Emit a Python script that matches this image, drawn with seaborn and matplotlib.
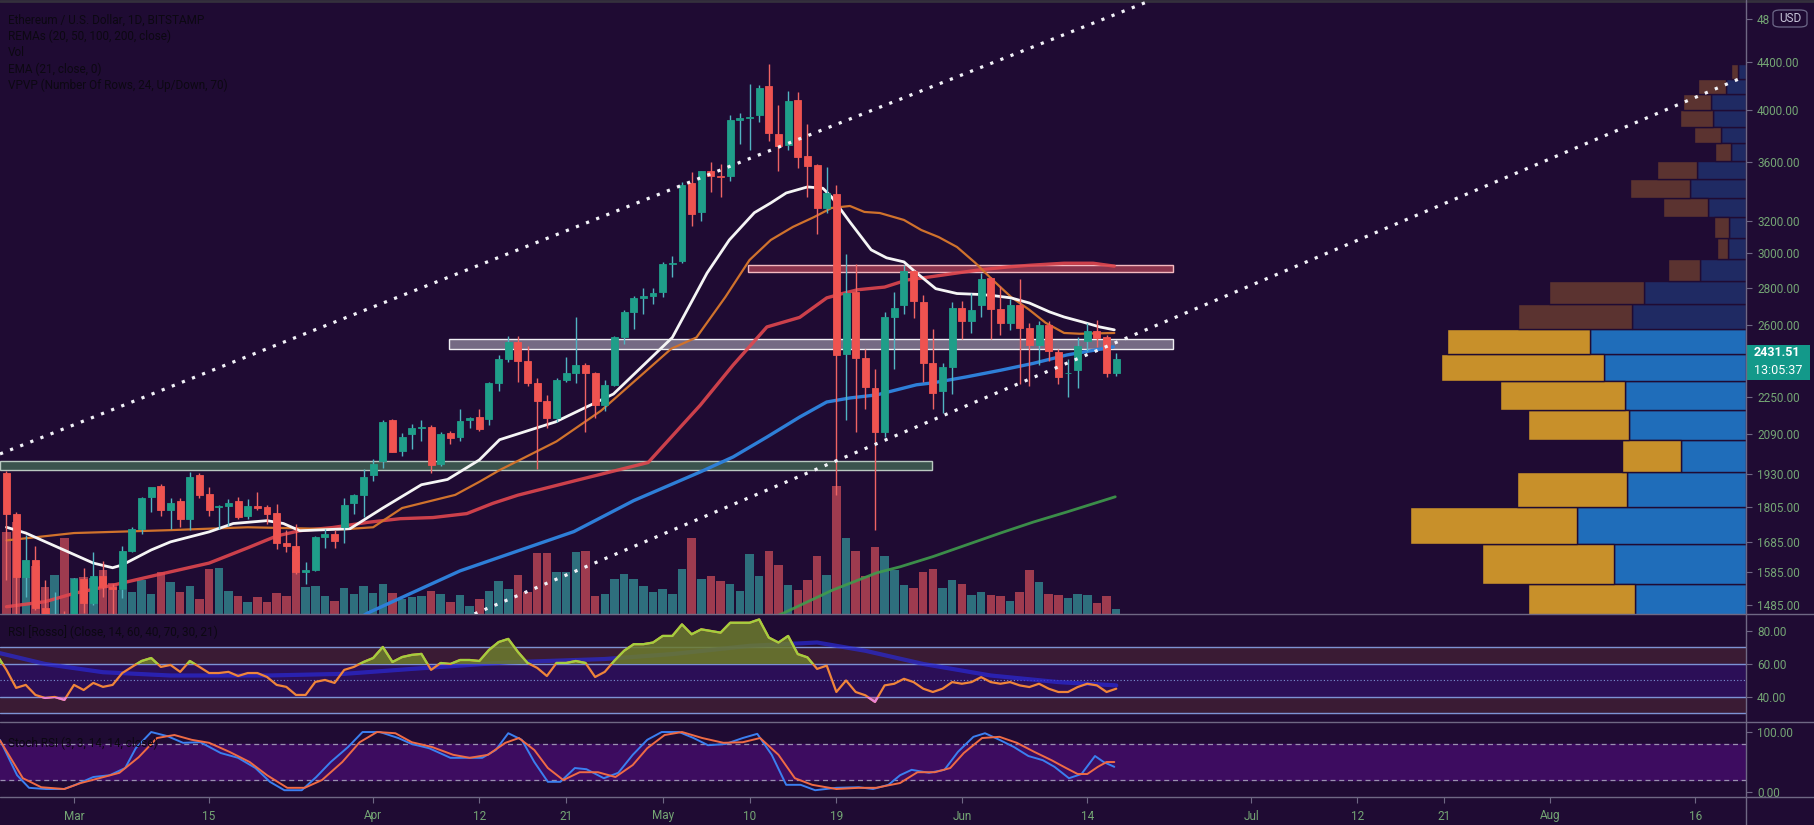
import numpy as np
import pandas as pd
import seaborn as sns
import matplotlib.pyplot as plt
import matplotlib.colors as mcolors
from matplotlib.patches import Rectangle, FancyBboxPatch
from matplotlib.lines import Line2D
from matplotlib.ticker import NullLocator

sns.set_theme(style="dark")
plt.rcParams['font.family'] = ['Roboto', 'DejaVu Sans']

# ---------------- data (day 0 = 1 Mar 2021, daily candles) ----------------
days = list(range(-7, 109))
opens = [1935, 1781, 1570, 1626, 1475, 1447, 1460,
         1417, 1565, 1490, 1575, 1540, 1532, 1655, 1730, 1845, 1885, 1795, 1830, 1765, 1925,
         1854, 1806, 1810, 1830, 1775, 1812, 1805, 1785, 1681, 1670, 1585, 1592, 1700, 1713,
         1735, 1820, 1850,
         1925, 1980, 2150, 2020, 2090, 2118, 2120, 1970, 2095, 2080, 2150, 2165, 2155, 2315,
         2430, 2515, 2420, 2315, 2235, 2160, 2330, 2360, 2400, 2360, 2215, 2305, 2538, 2669,
         2745, 2755,
         2775, 2940, 2955, 3455, 3260, 3540, 3505, 3505, 3915, 3935, 3960, 4190, 3810, 3730,
         4075, 3645, 3580, 3285, 3380, 2454, 2775, 2432, 2290, 2100, 2640, 2707, 2895, 2725,
         2408, 2280, 2390,
         2690, 2620, 2705, 2855, 2685, 2610, 2705, 2585, 2500, 2600, 2465, 2360, 2375, 2520,
         2570, 2540, 2360]
highs = [1940, 1790, 1710, 1671, 1560, 1525, 1468,
         1568, 1600, 1652, 1622, 1548, 1670, 1735, 1845, 1875, 1890, 1840, 1838, 1938, 1935,
         1880, 1815, 1835, 1845, 1835, 1860, 1815, 1818, 1725, 1745, 1620, 1705, 1730, 1725,
         1840, 1855, 1950,
         1990, 2150, 2155, 2095, 2135, 2150, 2130, 2100, 2105, 2200, 2165, 2200, 2320, 2450,
         2545, 2545, 2495, 2340, 2260, 2340, 2440, 2640, 2410, 2365, 2330, 2545, 2680, 2755,
         2800, 2800,
         2950, 2985, 3460, 3530, 3540, 3600, 3590, 3960, 3975, 4210, 4200, 4382, 4040, 4150,
         4140, 3890, 3590, 3570, 3440, 2996, 2935, 2480, 2380, 2670, 2780, 2930, 2900, 2760,
         2580, 2410, 2720,
         2730, 2770, 2885, 2860, 2810, 2740, 2850, 2610, 2620, 2620, 2480, 2430, 2540, 2610,
         2625, 2550, 2460]
lows = [1560, 1370, 1510, 1470, 1405, 1430, 1295,
        1410, 1462, 1485, 1510, 1442, 1505, 1650, 1712, 1790, 1775, 1730, 1735, 1725, 1840,
        1775, 1730, 1740, 1765, 1765, 1795, 1745, 1660, 1650, 1580, 1550, 1590, 1665, 1665,
        1680, 1780, 1770,
        1905, 1955, 2015, 2000, 2030, 2060, 1935, 1960, 2050, 2060, 2115, 2105, 2130, 2280,
        2415, 2320, 2300, 1950, 2115, 2140, 2320, 2315, 2100, 2160, 2190, 2300, 2505, 2580,
        2660, 2710,
        2750, 2860, 2945, 3170, 3200, 3390, 3360, 3470, 3735, 3690, 3900, 3760, 3540, 3690,
        3560, 3360, 3120, 3250, 1851, 2150, 2100, 2200, 1726, 2080, 2380, 2660, 2635, 2320,
        2200, 2180, 2265,
        2530, 2560, 2640, 2530, 2550, 2575, 2310, 2300, 2400, 2420, 2310, 2250, 2290, 2470,
        2490, 2345, 2350]
closes = [1781, 1570, 1626, 1475, 1447, 1460, 1417,
          1565, 1490, 1575, 1540, 1532, 1655, 1730, 1840, 1880, 1795, 1820, 1765, 1920, 1850,
          1795, 1810, 1820, 1770, 1810, 1803, 1780, 1681, 1670, 1585, 1592, 1700, 1713, 1688,
          1815, 1850, 1920,
          1970, 2140, 2015, 2080, 2115, 2120, 1965, 2090, 2075, 2145, 2160, 2110, 2315, 2430,
          2515, 2420, 2315, 2235, 2160, 2330, 2360, 2400, 2360, 2215, 2305, 2538, 2669, 2745,
          2755, 2770,
          2940, 2945, 3440, 3245, 3535, 3505, 3495, 3915, 3935, 3940, 4180, 3815, 3720, 4070,
          3640, 3575, 3285, 3385, 2450, 2772, 2436, 2296, 2100, 2640, 2690, 2895, 2730, 2408,
          2270, 2390, 2690,
          2620, 2680, 2850, 2685, 2610, 2705, 2585, 2500, 2600, 2470, 2345, 2362, 2495, 2570,
          2535, 2360, 2431.51]
# volume, relative units (read as bar height)
volume = [82, 92, 37, 48, 27, 39, 76,
          36, 37, 36, 44, 31, 24, 22, 34, 20, 42, 32, 22, 28, 15,
          45, 46, 23, 18, 12, 17, 12, 21, 18, 62, 27, 28, 18, 13,
          26, 20, 28,
          21, 30, 21, 15, 17, 18, 23, 20, 12, 19, 8, 15, 23, 33,
          25, 39, 22, 61, 61, 42, 42, 62, 63, 18, 20, 35, 40, 35,
          28, 22,
          25, 20, 45, 76, 35, 38, 33, 30, 23, 60, 38, 63, 49, 29,
          24, 34, 58, 39, 128, 76, 63, 38, 67, 58, 44, 29, 26, 42,
          45, 26, 34,
          30, 19, 22, 19, 18, 13, 22, 44, 32, 20, 19, 16, 20, 19,
          11, 18, 5]

# moving averages (vertices)
ema_white_d = [-7, -5, 2, 4, 5, 8, 10, 14, 16.5, 20, 21.7, 23.4, 28.6, 32, 36, 38.7, 42, 44.1,
               49.9, 55.9, 62, 65.6, 67.9, 70.5, 72.2, 73.8, 76, 77.6, 78.5, 80.4, 82.6, 84.2,
               86, 87, 89.3, 91.5, 93.8, 95.2, 97.1, 99, 101.1, 102.6, 104.5, 106.3, 107.8]
ema_white_p = [1735, 1715, 1615, 1600, 1609, 1658, 1685, 1719, 1748, 1758, 1748, 1723, 1730,
               1803, 1889, 1909, 1985, 2067, 2142, 2265, 2536, 2885, 3082, 3255, 3319, 3386,
               3427, 3418, 3359, 3195, 3022, 2974, 2950, 2900, 2796, 2769, 2764, 2758, 2745,
               2717, 2669, 2642, 2616, 2590, 2575]
ema_orange_d = [-7, 0, 10, 18, 25, 28, 31, 34, 39.5, 42, 44.1, 50, 54.6, 61.9, 64.5, 67.5,
                70, 72.2, 74.5, 76.7, 78.5, 80.4, 81.9, 83.5, 86, 87.8, 89.6, 91.5, 93.4, 95.2,
                97.1, 99, 100.7, 102.6, 104.2, 107.8]
ema_orange_p = [1690, 1715, 1725, 1735, 1730, 1728, 1735, 1803, 1851, 1900, 1945, 2060, 2190,
                2480, 2536, 2750, 2961, 3082, 3164, 3227, 3286, 3299, 3260, 3253, 3208, 3144,
                3100, 3039, 2944, 2845, 2750, 2680, 2611, 2559, 2555, 2559]
ema_red_d = [-7, -3, 0, 4, 9, 14, 18, 21, 23.4, 26.8, 30.4, 33.8, 37.2, 40.7, 43.4, 46, 52,
             59.5, 64.9, 68.3, 71.8, 75.2, 78, 79.7, 81.2, 84, 86.3, 88.6, 91.5, 93.8, 96.7,
             99, 102.6, 105.6, 107.8]
ema_red_p = [1480, 1495, 1520, 1545, 1580, 1615, 1665, 1705, 1723, 1734, 1752, 1765, 1769,
             1783, 1820, 1850, 1905, 1975, 2215, 2400, 2590, 2640, 2745, 2770, 2790, 2805,
             2845, 2862, 2885, 2903, 2920, 2930, 2942, 2942, 2925]
ema_blue_d = [28, 30.4, 40, 51.8, 58, 64.9, 68.3, 71.8, 75.2, 78, 80.4, 83.2, 87.3, 89,
              92.5, 96, 99.4, 102.9, 107.7]
ema_blue_p = [1420, 1461, 1590, 1720, 1830, 1938, 1997, 2078, 2163, 2229, 2247, 2261, 2307,
              2316, 2344, 2375, 2408, 2449, 2489]
ema_green_d = [71, 73.5, 78.6, 83.2, 85.6, 89, 92.5, 96, 99.4, 102.9, 107.9]
ema_green_p = [1430, 1461, 1530, 1584, 1603, 1636, 1675, 1715, 1753, 1789, 1844]

# trend lines (day, price) and zones (day from, day to, price lo, price hi)
upper_trend_d, upper_trend_p = [-7.67, 111.7], [2009, 4981]
lower_trend_d, lower_trend_p = [41.5, 173], [1459, 4270]
zone_red = (69.8, 113.9, 2891, 2932)
zone_white = (38.9, 113.9, 2477, 2527)
zone_green = (-7.67, 88.9, 1946, 1981)

# volume profile rows (price lo/hi, up volume, down volume, in value area)
vp_lo = [1422, 1550, 1679, 1808, 1937, 2065, 2194, 2323, 2452, 2580, 2709, 2838, 2966,
         3095, 3224, 3353, 3481, 3610, 3739, 3867, 3996, 4125, 4253]
vp_hi = [1550, 1679, 1808, 1937, 2065, 2194, 2323, 2452, 2580, 2709, 2838, 2966, 3095,
         3224, 3353, 3481, 3610, 3739, 3867, 3996, 4125, 4253, 4382]
vp_up = [111, 132, 169, 119, 65, 117, 121, 142, 156, 114, 102, 46, 18, 17, 38, 56, 49, 15,
         25, 33, 35, 20, 8]
vp_down = [107, 132, 167, 110, 59, 101, 125, 163, 143, 114, 95, 32, 11, 15, 45, 60, 40, 16,
           27, 33, 28, 28, 7]
vp_value_area = [1, 1, 1, 1, 1, 1, 1, 1, 1, 0, 0, 0, 0, 0, 0, 0, 0, 0, 0, 0, 0, 0, 0]

# RSI and its average
rsi_days = list(range(-8, 109))
rsi = [65.5, 56.4, 45.5, 47.3, 41.2, 39.4, 40.0, 38.2,
       47.3, 44.2, 48.5, 46.1, 47.3, 54.5, 58.2, 61.8, 63.6, 58.2, 59.4, 55.2, 61.8, 58.2,
       54.5, 54.5, 55.2, 52.7, 54.5, 54.5, 52.1, 47.3, 46.1, 41.2, 41.2, 49.1, 50.3, 48.5,
       56.4, 58.2, 61.2,
       63.6, 70.3, 61.2, 64.2, 65.5, 66.1, 56.4, 60.6, 60.0, 62.4, 62.4, 61.8, 68.5, 73.3,
       75.2, 67.3, 60.6, 57.6, 52.7, 60.6, 60.6, 61.8, 60.6, 52.1, 55.2, 62, 68, 72, 72, 73,
       77, 77, 84, 78, 81, 80, 79, 85, 85, 85, 87, 76, 73, 77, 66, 64, 57, 59, 43, 50, 43, 41,
       37, 47, 48, 51, 49, 45, 43, 45, 49,
       48, 49, 52, 49, 48, 49, 47, 46, 48, 45, 43, 43, 46, 48, 47, 43, 45]
rsi_ma_d = [-8, -3, 3, 10, 20, 28, 35, 45, 55, 62, 70, 77, 82, 88, 95, 102, 108]
rsi_ma = [67, 60, 55, 53, 53, 54, 57, 61, 63, 66, 71, 73, 68, 60, 53, 49, 47]

# Stoch RSI %K (blue) and %D (orange), vertices
stoch_k_d = [-7.67, -5.9, -4.66, -2.9, -1.04, 0.1, 2.0, 3.7, 5.3, 6.4, 8.0, 9.7, 11.3, 13.1,
             15.2, 17.0, 18.8, 20.3, 21.8, 23.6, 25.1, 26.6, 28.4, 29.9, 31.7, 33.6, 35.0,
             36.8, 39.0, 40.4, 42.3, 43.7, 45.0, 46.4, 47.7, 49.1, 50.4, 51.9, 53.1, 54.9,
             56.4, 57.9, 59.4, 60.9, 62.7, 64.2, 65.7, 67.5, 69.3, 70.8, 72.3, 73.8, 75.3,
             76.8, 79.0, 81.3, 82.8, 84.4, 85.6, 86.8, 88.6, 90.2, 91.6, 93.2, 94.4, 95.9,
             97.4, 98.9, 100.4, 101.6, 103.1, 104.4, 105.8, 106.7, 107.8]
stoch_k = [86.7, 28, 7, 5, 5, 11.7, 25, 28, 40, 73, 100, 93, 82, 83, 65, 57, 40, 17, 3, 3, 25,
           50, 75, 100, 100, 90, 80, 73, 57, 57, 57, 70, 98, 87, 50, 17, 17, 40, 38, 23, 32,
           62, 87, 100, 100, 90, 78, 80, 90, 97, 62, 12, 12, 3, 7, 8, 5, 12, 28, 37, 32, 37,
           67, 92, 98, 87, 75, 60, 53, 42, 23, 30, 60, 50, 42]
stoch_d_d = [-7.67, -5.3, -3.4, -1.0, 0.7, 2.6, 4.7, 6.7, 8.6, 10.4, 12.2, 14.0, 16.1, 18.2,
             20.0, 22.1, 23.9, 25.7, 27.8, 29.6, 31.4, 33.3, 35.0, 37.1, 39.3, 41.0, 42.9,
             44.7, 46.1, 47.7, 49.1, 50.7, 52.4, 54.3, 56.1, 57.9, 59.4, 61.2, 63.0, 65.1,
             67.3, 69.3, 71.1, 73.0, 74.7, 76.5, 79.0, 81.3, 83.1, 85.6, 87.4, 89.2, 90.8,
             92.2, 94.1, 95.9, 97.7, 99.5, 101.3, 102.8, 104.0, 105.0, 106.1, 107.0, 107.8]
stoch_d = [86, 23, 8, 5, 15, 23, 32, 58, 90, 95, 87, 82, 67, 50, 28, 7, 7, 20, 50, 83, 100,
           98, 83, 75, 62, 57, 62, 82, 90, 70, 40, 20, 33, 33, 25, 45, 73, 95, 100, 90, 82, 83,
           90, 62, 23, 12, 5, 7, 7, 15, 33, 33, 40, 65, 90, 92, 82, 67, 53, 40, 30, 30, 42, 50,
           50]

tick_days = [0, 14, 31, 42, 51, 61, 70, 79, 92, 105, 122, 133, 142, 153, 168]
tick_labels = ['Mar', '15', 'Apr', '12', '21', 'May', '10', '19', 'Jun', '14', 'Jul', '12',
               '21', 'Aug', '16']
price_ticks = [4800, 4400, 4000, 3600, 3200, 3000, 2800, 2600, 2250, 2090, 1930, 1805, 1685,
               1585, 1485]
# the 4800 label is mostly hidden under the USD badge; only "48" shows
price_labels = ['48', '4400.00', '4000.00', '3600.00', '3200.00', '3000.00', '2800.00',
                '2600.00', '2250.00', '2090.00', '1930.00', '1805.00', '1685.00', '1585.00',
                '1485.00']
last_price, countdown = 2431.51, '13:05:37'

legend_lines = ['Ethereum / U.S. Dollar, 1D, BITSTAMP', 'REMAs (20, 50, 100, 200, close)',
                'Vol', 'EMA (21, close, 0)', 'VPVP (Number Of Rows, 24, Up/Down, 70)']

df = pd.DataFrame({'day': days, 'open': opens, 'high': highs, 'low': lows,
                   'close': closes, 'volume': volume})

# ---------------- colours ----------------
bg = '#1f0b33'
c_up, c_dn = '#1f9e89', '#ef5350'
w_up, w_dn = '#52b4c2', '#ef6464'
v_up, v_dn = '#2e6f7d', '#9e3b4f'
txt = '#74a574'
sep = '#6f6884'

# ---------------- layout (pixel based) ----------------
W, H = 1814, 825
X_AX = 1746
fig = plt.figure(figsize=(W / 100, H / 100), dpi=100)
fig.patch.set_facecolor(bg)


def rect(top, bottom):
    return [0, 1 - bottom / H, X_AX / W, (bottom - top) / H]


ax_vol = fig.add_axes(rect(0, 614))
ax_vp = fig.add_axes(rect(0, 614))
ax = fig.add_axes(rect(0, 614), sharex=ax_vol)
ax_rsi = fig.add_axes(rect(614, 722), sharex=ax_vol)
ax_st = fig.add_axes(rect(722, 797), sharex=ax_vol)
ax_vol.set_zorder(0)
ax_vp.set_zorder(1)
ax.set_zorder(2)

XMIN, XMAX = -7.67, 173.26
for a in (ax_vol, ax_vp, ax, ax_rsi, ax_st):
    a.patch.set_visible(False)
    for s in a.spines.values():
        s.set_visible(False)
    a.grid(False)
ax_vol.set_xlim(XMIN, XMAX)

# volume
ax_vol.bar(df.day, df.volume, width=0.88,
           color=np.where(df.close >= df.open, v_up, v_dn), linewidth=0)
ax_vol.set_ylim(0, 614)
ax_vol.set_yticks([])
ax_vol.tick_params(bottom=False, labelbottom=False)

# volume profile
ax_vp.set_yscale('log')
ax_vp.set_ylim(1458.6, 4981)
ax_vp.set_xlim(X_AX, 0)
lo = np.array(vp_lo)
hi = np.array(vp_hi)
va = np.array(vp_value_area) == 1
ax_vp.barh(lo, vp_up, height=hi - lo, left=0, align='edge',
           color=np.where(va, '#1f6dba', '#1f2a63'), edgecolor=bg, linewidth=1.0)
ax_vp.barh(lo, vp_down, height=hi - lo, left=vp_up, align='edge',
           color=np.where(va, '#c8902a', '#5b3330'), edgecolor=bg, linewidth=1.0)
ax_vp.axis('off')

# main price panel
ax.set_yscale('log')
ax.set_ylim(1458.6, 4981)

for (x0, x1, p0, p1), fc, ec, al in [
        (zone_green, '#3f5c50', '#b9c8c0', 0.9),
        (zone_white, '#bdbac8', '#f0f0f4', 0.55),
        (zone_red, '#d2505f', '#f3b9c0', 0.6)]:
    ax.add_patch(Rectangle((x0, p0), x1 - x0, p1 - p0, facecolor=mcolors.to_rgba(fc, al),
                           edgecolor=ec, linewidth=1.0, zorder=2))

for d_, p_, col, lw, al in [(ema_green_d, ema_green_p, '#3f9c4c', 2.0, 0.9),
                            (ema_blue_d, ema_blue_p, '#2e7fd8', 2.4, 1.0),
                            (ema_red_d, ema_red_p, '#e0474e', 2.4, 0.9),
                            (ema_orange_d, ema_orange_p, '#d0722c', 1.6, 1.0),
                            (ema_white_d, ema_white_p, '#f5f5f5', 2.0, 1.0)]:
    sns.lineplot(x=d_, y=p_, ax=ax, color=col, linewidth=lw, alpha=al,
                 estimator=None, sort=False, zorder=3)

up = (df.close >= df.open).values
body_lo = np.minimum(df.open, df.close)
body_hi = np.maximum(df.open, df.close)
ax.vlines(df.day, df.low, df.high, colors=np.where(up, w_up, w_dn), linewidth=1.0, zorder=4)
ax.bar(df.day, body_hi - body_lo, bottom=body_lo, width=0.72,
       color=np.where(up, c_up, c_dn), edgecolor=np.where(up, c_up, c_dn),
       linewidth=0.6, zorder=5)

for d_, p_ in [(upper_trend_d, upper_trend_p), (lower_trend_d, lower_trend_p)]:
    ax.plot(d_, p_, color='#f2f2f8', linewidth=2.3, linestyle=(0, (1, 2.4)), zorder=6)

ax.set_xlabel('')
ax.set_ylabel('')
ax.yaxis.tick_right()
ax.set_yticks(price_ticks)
ax.yaxis.set_minor_locator(NullLocator())
ax.set_yticklabels(price_labels)
ax.tick_params(axis='y', colors=sep, labelcolor=txt, labelsize=8.5, length=4, width=0.8,
               pad=4, direction='out')
ax.tick_params(axis='x', bottom=False, labelbottom=False)

# RSI panel
ax_rsi.set_ylim(24.8, 90.3)
r_d = np.array(rsi_days, dtype=float)
r_v = np.array(rsi)
ax_rsi.axhspan(60, 70, color='#3a1b34', zorder=0)
ax_rsi.axhspan(30, 40, color='#3a1b34', zorder=0)
ax_rsi.axhspan(40, 60, color='#2b0f57', zorder=0)
for lvl in (70, 60, 40, 30):
    ax_rsi.axhline(lvl, color='#7d93d4', linewidth=1.0, zorder=1)
ax_rsi.axhline(50, color='#7d93d4', linewidth=0.8, linestyle=(0, (1, 2)), zorder=1)
sns.lineplot(x=rsi_ma_d, y=rsi_ma, ax=ax_rsi, color='#2a2ad6', linewidth=3.0, alpha=0.7,
             estimator=None, sort=False, zorder=2)
ax_rsi.fill_between(r_d, r_v, 60, where=r_v > 60, interpolate=True,
                    color='#6c7c2e', alpha=0.85, linewidth=0, zorder=2)
ax_rsi.fill_between(r_d, r_v, 40, where=r_v < 40, interpolate=True,
                    color='#b85aa8', alpha=0.6, linewidth=0, zorder=2)
ax_rsi.plot(r_d, r_v, color='#f0853a', linewidth=1.6, zorder=3)
g_line, = ax_rsi.plot(r_d, r_v, color='#a2cf3f', linewidth=1.6, zorder=4)
g_line.set_clip_path(Rectangle((-50, 60), 300, 60, transform=ax_rsi.transData))
p_line, = ax_rsi.plot(r_d, r_v, color='#e882d8', linewidth=1.6, zorder=4)
p_line.set_clip_path(Rectangle((-50, 0), 300, 40, transform=ax_rsi.transData))
ax_rsi.set_xlabel('')
ax_rsi.set_ylabel('')
ax_rsi.yaxis.tick_right()
ax_rsi.set_yticks([80, 60, 40])
ax_rsi.set_yticklabels(['80.00', '60.00', '40.00'])
ax_rsi.tick_params(axis='y', colors=sep, labelcolor=txt, labelsize=8.5, length=4,
                   width=0.8, pad=4)
ax_rsi.tick_params(axis='x', bottom=False, labelbottom=False)

# Stoch RSI panel
ax_st.set_ylim(-8.3, 116.7)
ax_st.axhspan(20, 80, color='#3d0c60', zorder=0)
for lvl in (80, 20):
    ax_st.axhline(lvl, color='#9a90b0', linewidth=0.9, linestyle=(0, (4, 3)), zorder=1)
sns.lineplot(x=stoch_k_d, y=stoch_k, ax=ax_st, color='#3b7ff0', linewidth=1.4,
             estimator=None, sort=False, zorder=3)
sns.lineplot(x=stoch_d_d, y=stoch_d, ax=ax_st, color='#ef6b45', linewidth=1.4,
             estimator=None, sort=False, zorder=3)
ax_st.set_xlabel('')
ax_st.set_ylabel('')
ax_st.yaxis.tick_right()
ax_st.set_yticks([100, 0])
ax_st.set_yticklabels(['100.00', '0.00'])
ax_st.tick_params(axis='y', colors=sep, labelcolor=txt, labelsize=8.5, length=4,
                  width=0.8, pad=4)
ax_st.set_xticks(tick_days)
ax_st.set_xticklabels(tick_labels)
ax_st.xaxis.set_minor_locator(NullLocator())
ax_st.tick_params(axis='x', colors=sep, labelcolor=txt, labelsize=8.5, length=4,
                  width=0.8, pad=5, bottom=True, labelbottom=True, direction='out')
ax_st.set_xlim(XMIN, XMAX)


# separators, top border and price axis line
def fig_hline(py, col=sep, lw=1.0):
    fig.add_artist(Line2D([0, 1], [1 - py / H, 1 - py / H], color=col, linewidth=lw))


for py in (614, 722, 797):
    fig_hline(py)
fig_hline(1, '#34303c', 2.0)
fig.add_artist(Line2D([X_AX / W, X_AX / W], [0, 1], color=sep, linewidth=1.0))

# legend texts (drawn very dark, as on the original)
for i, s in enumerate(legend_lines):
    fig.text(8 / W, 1 - (20 + i * 16.3) / H, s, fontsize=8.5, color='#0c0812',
             va='center', ha='left')
fig.text(8 / W, 1 - 632 / H, 'RSI [Rosso] (Close, 14, 60, 40, 70, 30, 21)', fontsize=8.5,
         color='#0c0812', va='center')
fig.text(8 / W, 1 - 743 / H, 'Stoch RSI (3, 3, 14, 14, close)', fontsize=8.5,
         color='#0c0812', va='center')

# last price badge
fig.add_artist(Rectangle((X_AX / W, 1 - 380 / H), 64 / W, 35 / H, transform=fig.transFigure,
                         facecolor='#13998a', edgecolor='none'))
fig.text(1754 / W, 1 - 353 / H, f'{last_price:.2f}', fontsize=9, fontweight='bold',
         color='white', va='center')
fig.text(1754 / W, 1 - 370 / H, countdown, fontsize=9, color='white', va='center')

# USD badge
fig.add_artist(FancyBboxPatch((1773 / W, 1 - 27 / H), 34 / W, 17 / H,
                              boxstyle='round,pad=0,rounding_size=0.004',
                              transform=fig.transFigure, facecolor=bg,
                              edgecolor='#6d6888', linewidth=0.9))
fig.text(1790 / W, 1 - 18.5 / H, 'USD', fontsize=8.5, color='#c8c6da', va='center',
         ha='center')

fig.savefig('out.png', dpi=100, facecolor=bg)
